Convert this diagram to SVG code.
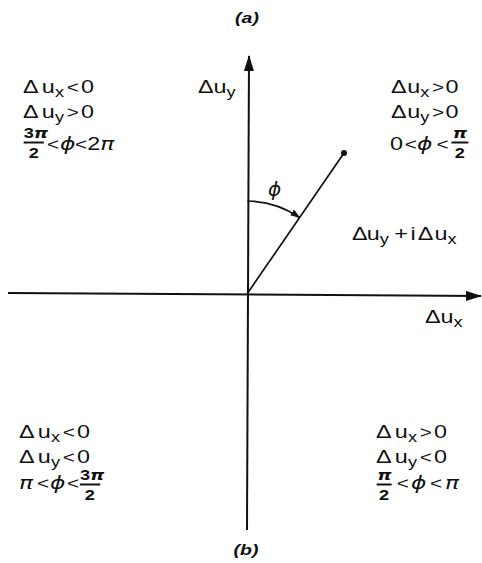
<svg xmlns="http://www.w3.org/2000/svg" width="482" height="563" viewBox="0 0 482 563">
<defs>
<style>
.t{font-family:"Liberation Sans",Arial,sans-serif;font-size:18px;fill:#111}
.sb{font-size:14px}
.op{font-size:16px}
.g{font-family:"DejaVu Sans",sans-serif;font-style:italic}
.fr{font-size:14px;font-weight:bold}
.bar{stroke:#111;stroke-width:2}
.lbl{font-family:"Liberation Sans",Arial,sans-serif;font-size:15px;font-weight:bold;font-style:italic;fill:#111;text-anchor:middle}
.ax{stroke:#111;stroke-width:2;fill:none}
.thin{stroke:#111;stroke-width:1.7;fill:none}
</style>
<marker id="big" markerWidth="16" markerHeight="10" refX="15" refY="5" orient="auto" markerUnits="userSpaceOnUse"><path d="M0,0 L16,5 L0,10 z" fill="#111"/></marker>
<marker id="small" markerWidth="10" markerHeight="7" refX="9" refY="3.5" orient="auto" markerUnits="userSpaceOnUse"><path d="M0,0 L10,3.5 L0,7 z" fill="#111"/></marker>
</defs>
<rect width="482" height="563" fill="#fff"/>

<g id="connectors">
<path class="ax" d="M247,530 L249,56" marker-end="url(#big)"/>
<path class="ax" d="M8,293 L481,296" marker-end="url(#big)"/>
<path class="thin" d="M247,294 L344,153"/>
<circle cx="344" cy="153" r="3" fill="#111"/>
<path class="thin" d="M247.5,201 A93,93 0 0 1 299.5,217.5" marker-end="url(#small)"/>
</g>

<g id="label-a" transform="translate(247,0) scale(1.3,1)"><text class="lbl" x="0" y="23">(a)</text></g>
<g id="label-b" transform="translate(246,0) scale(1.3,1)"><text class="lbl" x="0" y="555">(b)</text></g>

<g id="y-axis-label" class="t" transform="translate(198,0) scale(1.3,1)">
<text y="93"><tspan x="0">Δ</tspan><tspan x="12">u</tspan><tspan class="sb" x="22" y="97">y</tspan></text>
</g>
<g id="x-axis-label" class="t" transform="translate(425,0) scale(1.3,1)">
<text y="323"><tspan x="0">Δ</tspan><tspan x="12">u</tspan><tspan class="sb" x="22" y="327">x</tspan></text>
</g>
<g id="phi-label"><text class="t g" x="268" y="196" style="font-size:20px">ϕ</text></g>
<g id="vector-label" class="t" transform="translate(352,0) scale(1.3,1)">
<text y="240"><tspan x="0">Δ</tspan><tspan x="11.3">u</tspan><tspan class="sb" x="21.3" y="244">y</tspan><tspan x="32.5" y="240">+</tspan><tspan x="45">i</tspan><tspan x="50.5">Δ</tspan><tspan x="63.5">u</tspan><tspan class="sb" x="73.5" y="244">x</tspan></text>
</g>

<g id="quadrant-II" class="t" transform="translate(23,0) scale(1.3,1)">
<text y="93"><tspan x="0">Δ</tspan><tspan x="14.4">u</tspan><tspan class="sb" x="24.6" y="97">x</tspan><tspan class="op" x="33.6" y="93">&lt;</tspan><tspan x="44.6">0</tspan></text>
<text y="118"><tspan x="0">Δ</tspan><tspan x="14.4">u</tspan><tspan class="sb" x="24.6" y="122">y</tspan><tspan class="op" x="33.6" y="118">&gt;</tspan><tspan x="44.6">0</tspan></text>
<text class="fr" x="0.5" y="138.5">3<tspan class="g">π</tspan></text>
<line class="bar" x1="0.5" y1="142.5" x2="16" y2="142.5"/>
<text class="fr" x="4.5" y="158.5">2</text>
<text y="150.5"><tspan class="op" x="18.5">&lt;</tspan><tspan class="g" x="28.5">ϕ</tspan><tspan class="op" x="40">&lt;</tspan><tspan x="49.5">2</tspan><tspan class="g" x="59.5">π</tspan></text>
</g>

<g id="quadrant-I" class="t" transform="translate(391,0) scale(1.3,1)">
<text y="93"><tspan x="0">Δ</tspan><tspan x="12.5">u</tspan><tspan class="sb" x="22.5" y="97">x</tspan><tspan class="op" x="31.5" y="93">&gt;</tspan><tspan x="42">0</tspan></text>
<text y="118"><tspan x="0">Δ</tspan><tspan x="12.5">u</tspan><tspan class="sb" x="22.5" y="122">y</tspan><tspan class="op" x="31.5" y="118">&gt;</tspan><tspan x="42">0</tspan></text>
<text y="150.5"><tspan x="-0.8">0</tspan><tspan class="op" x="10.5">&lt;</tspan><tspan class="g" x="20">ϕ</tspan><tspan class="op" x="35">&lt;</tspan></text>
<text class="fr g" x="47.5" y="138.5">π</text>
<line class="bar" x1="46.5" y1="142.5" x2="59.5" y2="142.5"/>
<text class="fr" x="49" y="158.5">2</text>
</g>

<g id="quadrant-III" class="t" transform="translate(19,0) scale(1.3,1)">
<text y="438"><tspan x="0">Δ</tspan><tspan x="14.4">u</tspan><tspan class="sb" x="24.6" y="442">x</tspan><tspan class="op" x="33.6" y="438">&lt;</tspan><tspan x="44.6">0</tspan></text>
<text y="463"><tspan x="0">Δ</tspan><tspan x="14.4">u</tspan><tspan class="sb" x="24.6" y="467">y</tspan><tspan class="op" x="33.6" y="463">&lt;</tspan><tspan x="44.6">0</tspan></text>
<text y="489"><tspan class="g" x="0">π</tspan><tspan class="op" x="13.8">&lt;</tspan><tspan class="g" x="23.8">ϕ</tspan><tspan class="op" x="36.9">&lt;</tspan></text>
<text class="fr" x="46.9" y="480.5">3<tspan class="g">π</tspan></text>
<line class="bar" x1="46.9" y1="484.5" x2="62.5" y2="484.5"/>
<text class="fr" x="50.5" y="500.5">2</text>
</g>

<g id="quadrant-IV" class="t" transform="translate(376,0) scale(1.3,1)">
<text y="438"><tspan x="0">Δ</tspan><tspan x="14.4">u</tspan><tspan class="sb" x="24.6" y="442">x</tspan><tspan class="op" x="33.6" y="438">&gt;</tspan><tspan x="44.6">0</tspan></text>
<text y="463"><tspan x="0">Δ</tspan><tspan x="14.4">u</tspan><tspan class="sb" x="24.6" y="467">y</tspan><tspan class="op" x="33.6" y="463">&lt;</tspan><tspan x="44.6">0</tspan></text>
<text class="fr g" x="1" y="480.5">π</text>
<line class="bar" x1="0.5" y1="484.5" x2="12" y2="484.5"/>
<text class="fr" x="2.3" y="500.5">2</text>
<text y="489"><tspan class="op" x="16">&lt;</tspan><tspan class="g" x="27">ϕ</tspan><tspan class="op" x="41.5">&lt;</tspan><tspan class="g" x="53">π</tspan></text>
</g>
</svg>
